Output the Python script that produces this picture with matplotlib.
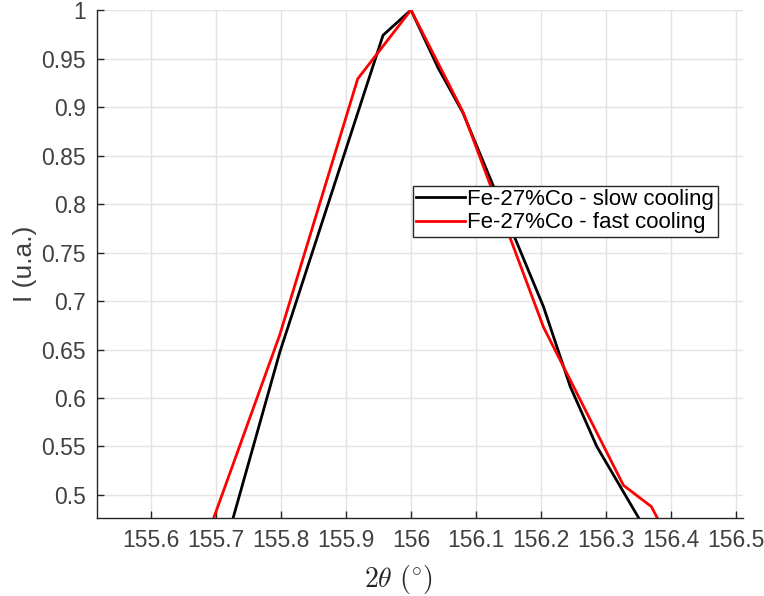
import numpy as np
import matplotlib
matplotlib.use('Agg')
import matplotlib.pyplot as plt
from matplotlib.ticker import FuncFormatter, MultipleLocator

plt.rcParams['font.family'] = ['Liberation Sans', 'DejaVu Sans']
plt.rcParams['mathtext.fontset'] = 'cm'

# Fe-27%Co, slow cooling (normalised intensity)
theta_slow = [155.711, 155.798, 155.957, 156.000, 156.042, 156.080, 156.204, 156.245, 156.286, 156.356]
i_slow = [0.440, 0.647, 0.974, 1.000, 0.940, 0.894, 0.694, 0.612, 0.550, 0.470]

# Fe-27%Co, fast cooling
theta_fast = [155.693, 155.798, 155.918, 156.000, 156.080, 156.204, 156.327, 156.370, 156.384]
i_fast = [0.470, 0.665, 0.929, 1.000, 0.895, 0.673, 0.510, 0.488, 0.470]

xticks = [155.6, 155.7, 155.8, 155.9, 156.0, 156.1, 156.2, 156.3, 156.4, 156.5]

fig = plt.figure(figsize=(7.64, 5.96), dpi=100)
ax = fig.add_axes([0.127, 0.1309, 0.8455, 0.8523])

ax.plot(theta_slow, i_slow, color='black', lw=2, label='Fe-27%Co - slow cooling')
ax.plot(theta_fast, i_fast, color='#ff0000', lw=2, label='Fe-27%Co - fast cooling')

ax.set_xlim(155.5168, 156.511)
ax.set_ylim(0.4763, 1.0)
ax.set_xticks(xticks)
ax.yaxis.set_major_locator(MultipleLocator(0.05))
fmt = FuncFormatter(lambda v, p: '%g' % round(v, 3))
ax.xaxis.set_major_formatter(fmt)
ax.yaxis.set_major_formatter(fmt)

ax.grid(True, color='#e3e3e3', lw=1)
ax.set_axisbelow(True)
for s in ['top', 'right']:
    ax.spines[s].set_visible(False)
for s in ['left', 'bottom']:
    ax.spines[s].set_color('#262626')
    ax.spines[s].set_linewidth(1)
ax.tick_params(direction='in', length=5, width=1, color='#262626',
               labelcolor='#404040', labelsize=16.5, pad=8)

ax.set_ylabel('I (u.a.)', fontsize=19, color='#404040')
ax.yaxis.set_label_coords(-0.093, 0.5)
ax.set_xlabel(r'$2\theta\ (^{\circ})$', fontsize=20, color='#262626')
ax.xaxis.set_label_coords(0.466, -0.088)

leg = ax.legend(loc='upper left', bbox_to_anchor=(0.489, 0.654), fontsize=16,
                frameon=True, fancybox=False, edgecolor='#262626', framealpha=1,
                handlelength=2.2, handletextpad=0.1, borderpad=0.15,
                labelspacing=0.1, borderaxespad=0)
leg.get_frame().set_linewidth(1)

fig.savefig('out.png', dpi=100)
